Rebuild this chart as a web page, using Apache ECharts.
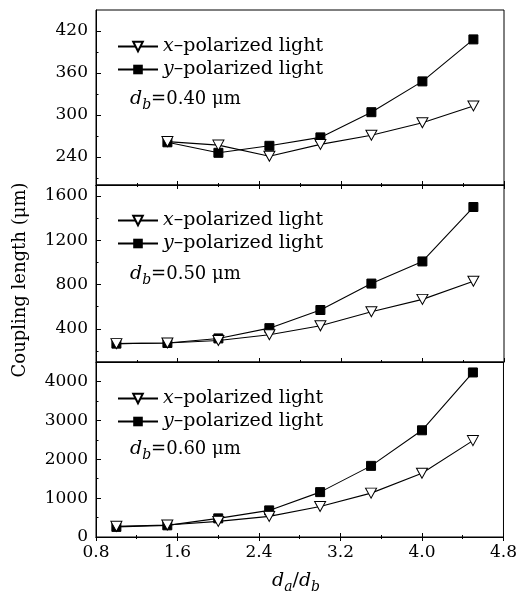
<!DOCTYPE html>
<html>
<head>
<meta charset="utf-8">
<script src="https://cdn.jsdelivr.net/npm/echarts@6/dist/echarts.min.js"></script>
</head>
<body style="margin:0">
<div id="main" style="width:520px;height:592px"></div>
<script>
// da/db ratios
var ratio = [1.0, 1.5, 2.0, 2.5, 3.0, 3.5, 4.0, 4.5];
var ratio40 = [1.5, 2.0, 2.5, 3.0, 3.5, 4.0, 4.5];
// coupling length (um), db = 0.40 / 0.50 / 0.60
var x40 = [262, 257, 241, 258, 271, 289, 313];
var y40 = [261, 246, 256, 268, 304, 348, 408];
var x50 = [266, 272, 295, 346, 427, 555, 666, 830];
var y50 = [266, 272, 313, 406, 570, 809, 1009, 1501];
var x60 = [274, 308, 402, 530, 786, 1128, 1641, 2479];
var y60 = [260, 300, 479, 684, 1154, 1829, 2744, 4231];
var dbLabels = ['0.40', '0.50', '0.60'];
var yMajor = [[240, 300, 360, 420], [400, 800, 1200, 1600], [0, 1000, 2000, 3000, 4000]];
var yMinor = [[210, 270, 330, 390], [200, 600, 1000, 1400], [500, 1500, 2500, 3500]];
var yRange = [[200, 450], [100, 1700], [0, 4500]];

var FONT = 'DejaVu Serif';
var chart = echarts.init(document.getElementById('main'));

function pairs(xs, ys) {
    return xs.map(function (v, i) { return [v, ys[i]]; });
}

var grids = [
    {left: 96, right: 16, top: 10, height: 175},
    {left: 96, right: 16, top: 185, height: 177},
    {left: 96, right: 16, top: 362, height: 175}
].map(function (g) {
    g.show = true; g.borderColor = '#000'; g.borderWidth = 1; g.backgroundColor = 'transparent';
    return g;
});

var xAxes = [], yAxes = [];
for (var i = 0; i < 3; i++) {
    xAxes.push({
        type: 'value', gridIndex: i, min: 0.8, max: 4.8, interval: 0.8, position: 'bottom',
        axisLine: {show: true, lineStyle: {color: '#000'}},
        axisTick: {show: true, inside: true, length: 4, lineStyle: {color: '#000'}},
        minorTick: {show: true, splitNumber: 2, length: 2, lineStyle: {color: '#000'}},
        splitLine: {show: false}, minorSplitLine: {show: false},
        axisLabel: {show: i === 2, margin: 7, color: '#000', fontFamily: FONT, fontSize: 17,
            formatter: function (v) { return v.toFixed(1); }}
    });
    if (i > 0) {
        xAxes.push({
            type: 'value', gridIndex: i, min: 0.8, max: 4.8, interval: 0.8, position: 'top',
            axisLine: {show: true, lineStyle: {color: '#000'}},
            axisTick: {show: true, inside: true, length: 4, lineStyle: {color: '#000'}},
            minorTick: {show: true, splitNumber: 2, length: 2, lineStyle: {color: '#000'}},
            splitLine: {show: false}, axisLabel: {show: false}
        });
    }
    yAxes.push({
        type: 'value', gridIndex: i, min: yRange[i][0], max: yRange[i][1], position: 'left',
        axisLine: {show: true, lineStyle: {color: '#000'}},
        axisTick: {show: true, inside: true, length: 5, customValues: yMajor[i], lineStyle: {color: '#000'}},
        axisLabel: {show: true, customValues: yMajor[i], margin: 8, color: '#000', fontFamily: FONT, fontSize: 17,
            formatter: function (v) { return String(v); }},
        splitLine: {show: false}
    });
    yAxes.push({
        type: 'value', gridIndex: i, min: yRange[i][0], max: yRange[i][1], position: 'left',
        axisLine: {show: false},
        axisTick: {show: true, inside: true, length: 2.5, customValues: yMinor[i], lineStyle: {color: '#000'}},
        axisLabel: {show: false},
        splitLine: {show: false}
    });
}

// x axis index of bottom axis for grid i: 0, 1, 3
var bottomX = [0, 1, 3];
var sets = [[ratio40, x40, y40], [ratio, x50, y50], [ratio, x60, y60]];
var series = [];
sets.forEach(function (s, i) {
    series.push({
        name: 'x' + i, type: 'line', xAxisIndex: bottomX[i], yAxisIndex: i * 2,
        data: pairs(s[0], s[1]), symbol: 'triangle', symbolRotate: 180, symbolSize: [11, 10],
        lineStyle: {color: '#000', width: 1.1}, itemStyle: {color: '#fff', borderColor: '#000', borderWidth: 1},
        z: 3
    });
    series.push({
        name: 'y' + i, type: 'line', xAxisIndex: bottomX[i], yAxisIndex: i * 2,
        data: pairs(s[0], s[2]), symbol: 'rect', symbolSize: 9,
        lineStyle: {color: '#000', width: 1.1}, itemStyle: {color: '#000', borderColor: '#000'},
        z: 2
    });
});

var legendTops = [37, 211, 389];
var legends = legendTops.map(function (t, i) {
    return {
        data: ['x' + i, 'y' + i], orient: 'vertical', left: 117, top: t, padding: 0,
        itemWidth: 40, itemHeight: 12, itemGap: 4, selectedMode: false,
        formatter: function (name) {
            return '{i|' + name.charAt(0) + '}–polarized light';
        },
        textStyle: {color: '#000', fontFamily: FONT, fontSize: 19,
            rich: {i: {fontStyle: 'italic', fontFamily: FONT, fontSize: 19, color: '#000'}}}
    };
});

var dbTops = [90, 265, 440];
var graphics = dbTops.map(function (t, i) {
    return {
        type: 'text', left: 130, top: t,
        style: {
            text: '{i|d}{s|b}{n|=' + dbLabels[i] + ' μm}',
            fill: '#000',
            rich: {
                i: {fontFamily: FONT, fontStyle: 'italic', fontSize: 19, lineHeight: 26, verticalAlign: 'middle'},
                s: {fontFamily: FONT, fontStyle: 'italic', fontSize: 14, lineHeight: 15, verticalAlign: 'bottom'},
                n: {fontFamily: FONT, fontSize: 18, lineHeight: 26, verticalAlign: 'middle'}
            }
        }
    };
});
graphics.push({
    type: 'text', left: 272, top: 572,
    style: {
        text: '{i|d}{s|a}{n|/}{i|d}{s|b}', fill: '#000',
        rich: {
            i: {fontFamily: FONT, fontStyle: 'italic', fontSize: 19, lineHeight: 26, verticalAlign: 'middle'},
            s: {fontFamily: FONT, fontStyle: 'italic', fontSize: 14, lineHeight: 15, verticalAlign: 'bottom'},
            n: {fontFamily: FONT, fontSize: 19, lineHeight: 26, verticalAlign: 'middle'}
        }
    }
});
graphics.push({
    type: 'text', x: 20, y: 280, rotation: Math.PI / 2,
    style: {text: 'Coupling length (μm)', fill: '#000', fontFamily: FONT, fontSize: 18,
        align: 'center', verticalAlign: 'middle'}
});

chart.setOption({
    backgroundColor: '#fff',
    animation: false,
    grid: grids,
    xAxis: xAxes,
    yAxis: yAxes,
    legend: legends,
    series: series,
    graphic: graphics
});
</script>
</body>
</html>
